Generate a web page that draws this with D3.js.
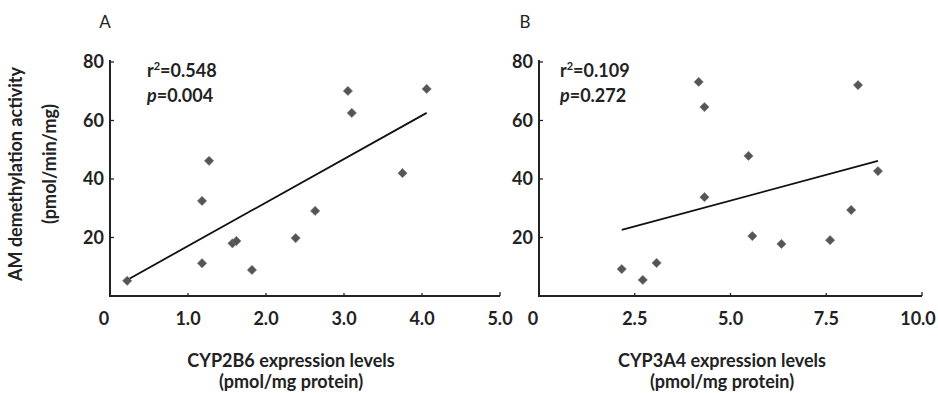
<!DOCTYPE html>
<html>
<head>
<meta charset="utf-8">
<script src="https://cdn.jsdelivr.net/npm/d3@7"></script>
<style>
  html, body { margin: 0; padding: 0; background: #fff; }
  svg text { font-family: Lato, "Open Sans", sans-serif; font-weight: 700; fill: #222; }
</style>
</head>
<body>
<div id="chart"></div>
<script>
// Panel A: CYP2B6 vs AM demethylation
var cyp2b6X = [0.22, 1.18, 1.18, 1.27, 1.57, 1.62, 1.82, 2.38, 2.63, 3.05, 3.10, 3.75, 4.06];
var cyp2b6Y = [5.2, 11.2, 32.5, 46.2, 18.0, 18.8, 8.9, 19.8, 29.1, 70.1, 62.6, 42.0, 70.8];
var fitAx = [0.22, 4.06];
var fitAy = [5.5, 62.6];

// Panel B: CYP3A4 vs AM demethylation
var cyp3a4X = [2.16, 2.71, 3.07, 4.17, 4.32, 4.32, 5.47, 5.57, 6.33, 7.60, 8.15, 8.33, 8.85];
var cyp3a4Y = [9.2, 5.5, 11.3, 73.2, 64.6, 33.8, 47.9, 20.5, 17.8, 19.1, 29.4, 72.1, 42.7];
var fitBx = [2.16, 8.85];
var fitBy = [22.6, 46.2];

var yTicks = [20, 40, 60, 80];
var xTicksA = [0, 1, 2, 3, 4, 5];
var xTicksB = [0, 2.5, 5, 7.5, 10];

var W = 938, H = 393;
var svg = d3.select("#chart").append("svg").attr("width", W).attr("height", H);

var yTop = 62, yBottom = 296;
var FS = "18px";

function panel(opts) {
  var x = d3.scaleLinear().domain(opts.xDomain).range(opts.xRange);
  var y = d3.scaleLinear().domain([0, 80]).range([yBottom, yTop]);
  var g = svg.append("g");
  var nT = opts.xTicks.length;

  // axes
  g.append("line").attr("x1", x.range()[0]).attr("x2", x.range()[0])
    .attr("y1", y(80) - 2).attr("y2", yBottom)
    .attr("stroke", "#222").attr("stroke-width", 2);
  g.append("line").attr("x1", x.range()[0] - 1).attr("x2", x.range()[1])
    .attr("y1", yBottom).attr("y2", yBottom)
    .attr("stroke", "#222").attr("stroke-width", 2);

  // y ticks (inside) + labels
  g.selectAll("line.yt").data(yTicks).enter().append("line")
    .attr("x1", x.range()[0]).attr("x2", x.range()[0] + 4)
    .attr("y1", function (d) { return y(d); }).attr("y2", function (d) { return y(d); })
    .attr("stroke", "#222").attr("stroke-width", 1.3);
  g.selectAll("text.yl").data(yTicks).enter().append("text")
    .attr("x", x.range()[0] - 6).attr("y", function (d) { return y(d); })
    .attr("dy", "0.36em").attr("text-anchor", "end")
    .style("font-size", FS)
    .text(function (d) { return d; });

  // x ticks (inside) + labels
  g.selectAll("line.xt").data(opts.xTicks.slice(1, -1)).enter().append("line")
    .attr("x1", function (d) { return x(d); }).attr("x2", function (d) { return x(d); })
    .attr("y1", yBottom).attr("y2", yBottom - 3)
    .attr("stroke", "#222").attr("stroke-width", 1.3);
  g.append("line").attr("x1", x.range()[1]).attr("x2", x.range()[1])
    .attr("y1", yBottom).attr("y2", yBottom - 4)
    .attr("stroke", "#222").attr("stroke-width", 1.3);
  g.selectAll("text.xl").data(opts.xTicks).enter().append("text")
    .attr("x", function (d, i) {
      if (i === 0) return x(d) - 6;
      if (i === nT - 1) return x(d) - opts.lastShift;
      return x(d);
    })
    .attr("y", 325).attr("text-anchor", "middle")
    .style("font-size", FS)
    .text(function (d) { return d === 0 ? "0" : d3.format(".1f")(d); });

  // regression line
  var fit = opts.fitX.map(function (v, i) { return [v, opts.fitY[i]]; });
  g.append("path")
    .attr("d", d3.line().x(function (d) { return x(d[0]); }).y(function (d) { return y(d[1]); })(fit))
    .attr("fill", "none").attr("stroke", "#111").attr("stroke-width", 1.8);

  // points
  var pts = opts.px.map(function (v, i) { return [v, opts.py[i]]; });
  g.selectAll("path.pt").data(pts).enter().append("path")
    .attr("d", d3.symbol().type(d3.symbolDiamond2).size(55))
    .attr("transform", function (d) { return "translate(" + x(d[0]) + "," + y(d[1]) + ")"; })
    .attr("fill", "#555").attr("stroke", "#777").attr("stroke-width", 0.6);

  // stats
  var sx = x.range()[0] + opts.statOffset;
  var r = g.append("text").attr("x", sx).attr("y", 77).style("font-size", FS);
  r.append("tspan").text("r");
  r.append("tspan").attr("dy", -7).style("font-size", "11px").text("2");
  r.append("tspan").attr("dy", 7).text("=" + opts.r2);
  var p = g.append("text").attr("x", sx).attr("y", 102).style("font-size", FS);
  p.append("tspan").style("font-style", "italic").text("p");
  p.append("tspan").text("=" + opts.p);

  // panel label
  g.append("text").attr("x", opts.labelX).attr("y", 28).attr("text-anchor", "middle")
    .style("font-size", "17px").style("font-weight", 400).text(opts.label);

  // x title
  g.append("text").attr("x", opts.titleX).attr("y", 367).attr("text-anchor", "middle")
    .style("font-size", FS).text(opts.xTitle);
  g.append("text").attr("x", opts.titleX).attr("y", 388).attr("text-anchor", "middle")
    .style("font-size", FS).text("(pmol/mg protein)");
}

panel({
  xDomain: [0, 5], xRange: [110, 500], xTicks: xTicksA,
  px: cyp2b6X, py: cyp2b6Y, fitX: fitAx, fitY: fitAy,
  r2: "0.548", p: "0.004", statOffset: 37, label: "A", labelX: 105,
  xTitle: "CYP2B6 expression levels", titleX: 291, lastShift: 0
});
panel({
  xDomain: [0, 10], xRange: [539, 922], xTicks: xTicksB,
  px: cyp3a4X, py: cyp3a4Y, fitX: fitBx, fitY: fitBy,
  r2: "0.109", p: "0.272", statOffset: 21, label: "B", labelX: 525,
  xTitle: "CYP3A4 expression levels", titleX: 722, lastShift: 4
});

// y title
svg.append("text").attr("transform", "translate(22,174) rotate(-90)")
  .attr("text-anchor", "middle").style("font-size", FS)
  .text("AM demethylation activity");
svg.append("text").attr("transform", "translate(56,164) rotate(-90)")
  .attr("text-anchor", "middle").style("font-size", FS)
  .text("(pmol/min/mg)");
</script>
</body>
</html>
